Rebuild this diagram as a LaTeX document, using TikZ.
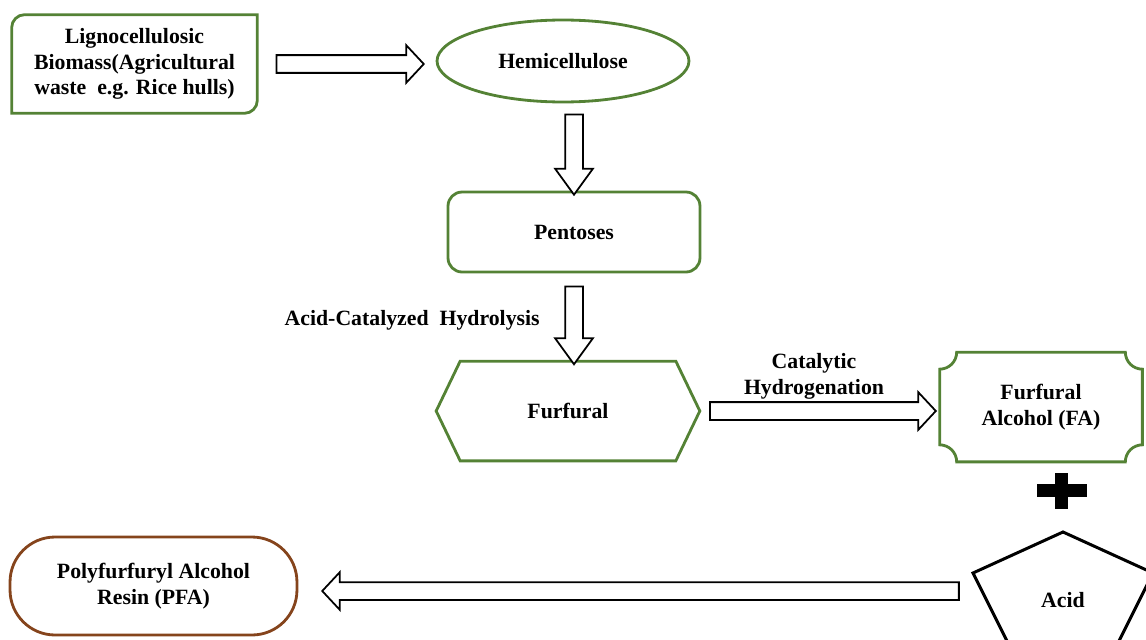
\documentclass[tikz,border=0pt]{standalone}
\usepackage{fontspec}
\setmainfont{Liberation Serif}
\usetikzlibrary{shapes.geometric,shapes.arrows,positioning,calc}
\definecolor{leaf}{RGB}{84,130,53}
\definecolor{bark}{RGB}{133,68,28}
\newcommand{\fatarrow}[3][]{%
 \path let \p1=(#2), \p2=(#3), \n1={veclen(\x2-\x1,\y2-\y1)}, \n2={atan2(\y2-\y1,\x2-\x1)} in
 node[fat, minimum height=\n1, rotate=\n2, #1] at ($(\p1)!0.5!(\p2)$) {};}

\begin{document}
\begin{tikzpicture}[x=0.02cm,y=0.02cm,
 txt/.style={font=\fontsize{12.4}{14.7}\selectfont\bfseries, align=center, inner sep=0pt},
 grn/.style={draw=leaf, line width=1.6pt},
 fat/.style={single arrow, draw=black, fill=white, line width=1pt, inner sep=0.16cm,
 minimum width=0pt, single arrow head extend=0.2cm, single arrow tip angle=94},
 down/.style={single arrow tip angle=72}]
 \useasboundingbox (0,0) rectangle (1146,-639);

 \node[txt, minimum width=4.9cm, minimum height=1.96cm] (bio) at (134.5,-64)
 {Lignocellulosic\\Biomass(Agricultural\\waste~~e.g. Rice hulls)};
 \draw[grn] (bio.south west) -- ([yshift=-0.26cm]bio.north west)
 arc[start angle=180, end angle=90, radius=0.26cm] -- (bio.north east)
 -- ([yshift=0.26cm]bio.south east)
 arc[start angle=0, end angle=-90, radius=0.26cm] -- cycle;

 \node[txt, grn, ellipse, minimum width=5.04cm, minimum height=1.64cm] (hemi) at (563,-61) {Hemicellulose};
 \node[txt, grn, rounded corners=0.28cm, minimum width=5.04cm, minimum height=1.6cm] (pent) at (574,-232) {Pentoses};

 \node[txt, minimum width=5.26cm, minimum height=1.98cm] (furf) at (568,-411) {Furfural};
 \draw[grn] (furf.west) -- ([xshift=0.48cm]furf.north west) -- ([xshift=-0.48cm]furf.north east)
 -- (furf.east) -- ([xshift=-0.48cm]furf.south east) -- ([xshift=0.48cm]furf.south west) -- cycle;

 \node[txt, minimum width=4.04cm, minimum height=2.18cm] (fa) at (1041,-407) {Furfural\\Alcohol (FA)};
 \draw[grn] ([yshift=-0.34cm]fa.north west) arc[start angle=270, end angle=360, radius=0.34cm]
 -- ([xshift=-0.34cm]fa.north east) arc[start angle=180, end angle=270, radius=0.34cm]
 -- ([yshift=0.34cm]fa.south east) arc[start angle=90, end angle=180, radius=0.34cm]
 -- ([xshift=0.34cm]fa.south west) arc[start angle=0, end angle=90, radius=0.34cm] -- cycle;

 % plus sign
 \fill (1055,-473) rectangle (1068,-509);
 \fill (1037,-484) rectangle (1087,-497);

 \node[txt] (acid) at (1063,-600) {Acid};
 \draw[line width=1.7pt] ($(acid)+(0,68)$) -- ($(acid)+(90,27)$) -- ($(acid)+(44,-65)$)
 -- ($(acid)+(-44,-65)$) -- ($(acid)+(-90,27)$) -- cycle;

 \node[txt, draw=bark, line width=1.6pt, rounded corners=0.9cm, minimum width=5.74cm,
 minimum height=1.96cm] (pfa) at (153.5,-586) {Polyfurfuryl Alcohol\\Resin (PFA)};

 \fatarrow{$(bio.east)+(15,0)$}{$(bio.east -| hemi.west)+(-16,0)$}
 \fatarrow[down]{$(hemi.south -| pent.north)+(0,-5)$}{$(pent.north)+(0,2)$}
 \fatarrow[down]{$(pent.south)+(0,-7)$}{$(pent.south |- furf.north)+(0,3)$}
 \fatarrow{$(furf.east)+(6,0)$}{$(furf.east -| fa.west)+(-8,0)$}
 \fatarrow{$(acid)+(-100,9)$}{$(acid -| pfa.east)+(28,9)$}

 \node[txt, anchor=east] (hyd) at (540,-320) {Acid-Catalyzed~~Hydrolysis};
 \node[txt] (cat) at (814,-376) {Catalytic\\Hydrogenation};
\end{tikzpicture}
\end{document}
